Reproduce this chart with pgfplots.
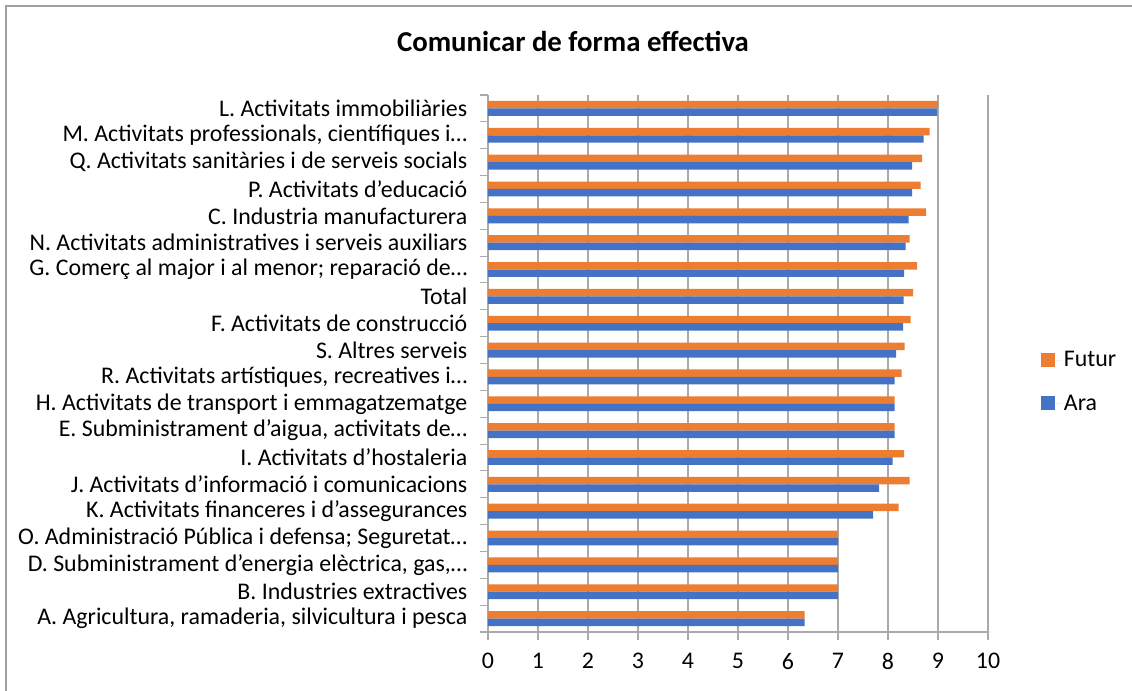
\documentclass[border=0pt]{standalone}
\usepackage{pgfplots}
\pgfplotsset{compat=1.18}
\usepackage{pgfplotstable}
\usepackage{fontspec}
\setmainfont{Carlito}
\definecolor{futur}{RGB}{237,125,49}
\definecolor{ara}{RGB}{68,114,196}
\definecolor{gridc}{RGB}{170,170,170}
\definecolor{borderc}{RGB}{160,160,160}

\pgfplotstableread{
y ara futur
0 6.33 6.33
1 7.00 7.00
2 7.00 7.00
3 7.00 7.00
4 7.70 8.21
5 7.82 8.43
6 8.09 8.32
7 8.13 8.13
8 8.13 8.13
9 8.13 8.27
10 8.16 8.33
11 8.30 8.45
12 8.31 8.50
13 8.32 8.58
14 8.35 8.43
15 8.41 8.76
16 8.48 8.65
17 8.48 8.68
18 8.71 8.83
19 8.98 9.00
}\datatable

\begin{document}
\begin{tikzpicture}
\useasboundingbox (0pt,0pt) rectangle (849pt,517.5pt);
\draw[borderc, line width=0.8pt] (4.5pt,-5pt) -- (4.5pt,513pt) -- (860pt,513pt);
\node[anchor=base, font=\fontsize{21.6}{26}\selectfont\bfseries] at (429.75pt,478.7pt) {Comunicar de forma effectiva};
\begin{axis}[
  at={(366pt,43.5pt)}, anchor=south west,
  scale only axis, width=375pt, height=402.75pt,
  xbar, bar width=5.6pt,
  xmin=0, xmax=10, ymin=-0.5, ymax=19.5,
  enlargelimits=false,
  axis x line*=bottom, axis y line*=left,
  axis line style={gridc, line width=0.8pt},
  xtick={0,...,10},
  ytick={0,...,19},
  minor ytick={-0.5,0.5,...,19.5},
  yticklabels={
    {A. Agricultura, ramaderia, silvicultura i pesca},
    {B. Industries extractives},
    {D. Subministrament d’energia elèctrica, gas,…},
    {O. Administració Pública i defensa; Seguretat…},
    {K. Activitats financeres i d’assegurances},
    {J. Activitats d’informació i comunicacions},
    {I. Activitats d’hostaleria},
    {E. Subministrament d’aigua, activitats de…},
    {H. Activitats de transport i emmagatzematge},
    {R. Activitats artístiques, recreatives i…},
    {S. Altres serveis},
    {F. Activitats de construcció},
    {Total},
    {G. Comerç al major i al menor; reparació de…},
    {N. Activitats administratives i serveis auxiliars},
    {C. Industria manufacturera},
    {P. Activitats d’educació},
    {Q. Activitats sanitàries i de serveis socials},
    {M. Activitats professionals, científiques i…},
    {L. Activitats immobiliàries}
  },
  tick align=outside,
  major tick length=6pt, minor tick length=6pt,
  every major y tick/.style={draw=none},
  every minor y tick/.style={gridc, line width=0.8pt},
  every major x tick/.style={gridc, line width=0.8pt},
  xmajorgrids, grid style={gridc, line width=0.8pt},
  ticklabel style={font=\fontsize{17.9}{21}\selectfont, text=black},
  yticklabel style={xshift=-6pt},
  xticklabel style={yshift=-6.5pt},
  /pgf/number format/assume math mode=true,
  legend style={at={(1.106,0.528)}, anchor=north west, draw=none, fill=none,
    font=\fontsize{17.9}{21}\selectfont, row sep=15.5pt, inner sep=0pt},
  legend cell align=left,
  legend image code/.code={\fill[#1] (0pt,-5.25pt) rectangle (10.5pt,5.25pt); \path (0pt,0pt) -- (15pt,0pt);},
]
\addplot[fill=futur, draw=none, bar shift=2.8pt] table[x=futur, y=y] {\datatable};
\addlegendentry{Futur}
\addplot[fill=ara, draw=none, bar shift=-2.8pt] table[x=ara, y=y] {\datatable};
\addlegendentry{Ara}
\end{axis}
\end{tikzpicture}
\end{document}
